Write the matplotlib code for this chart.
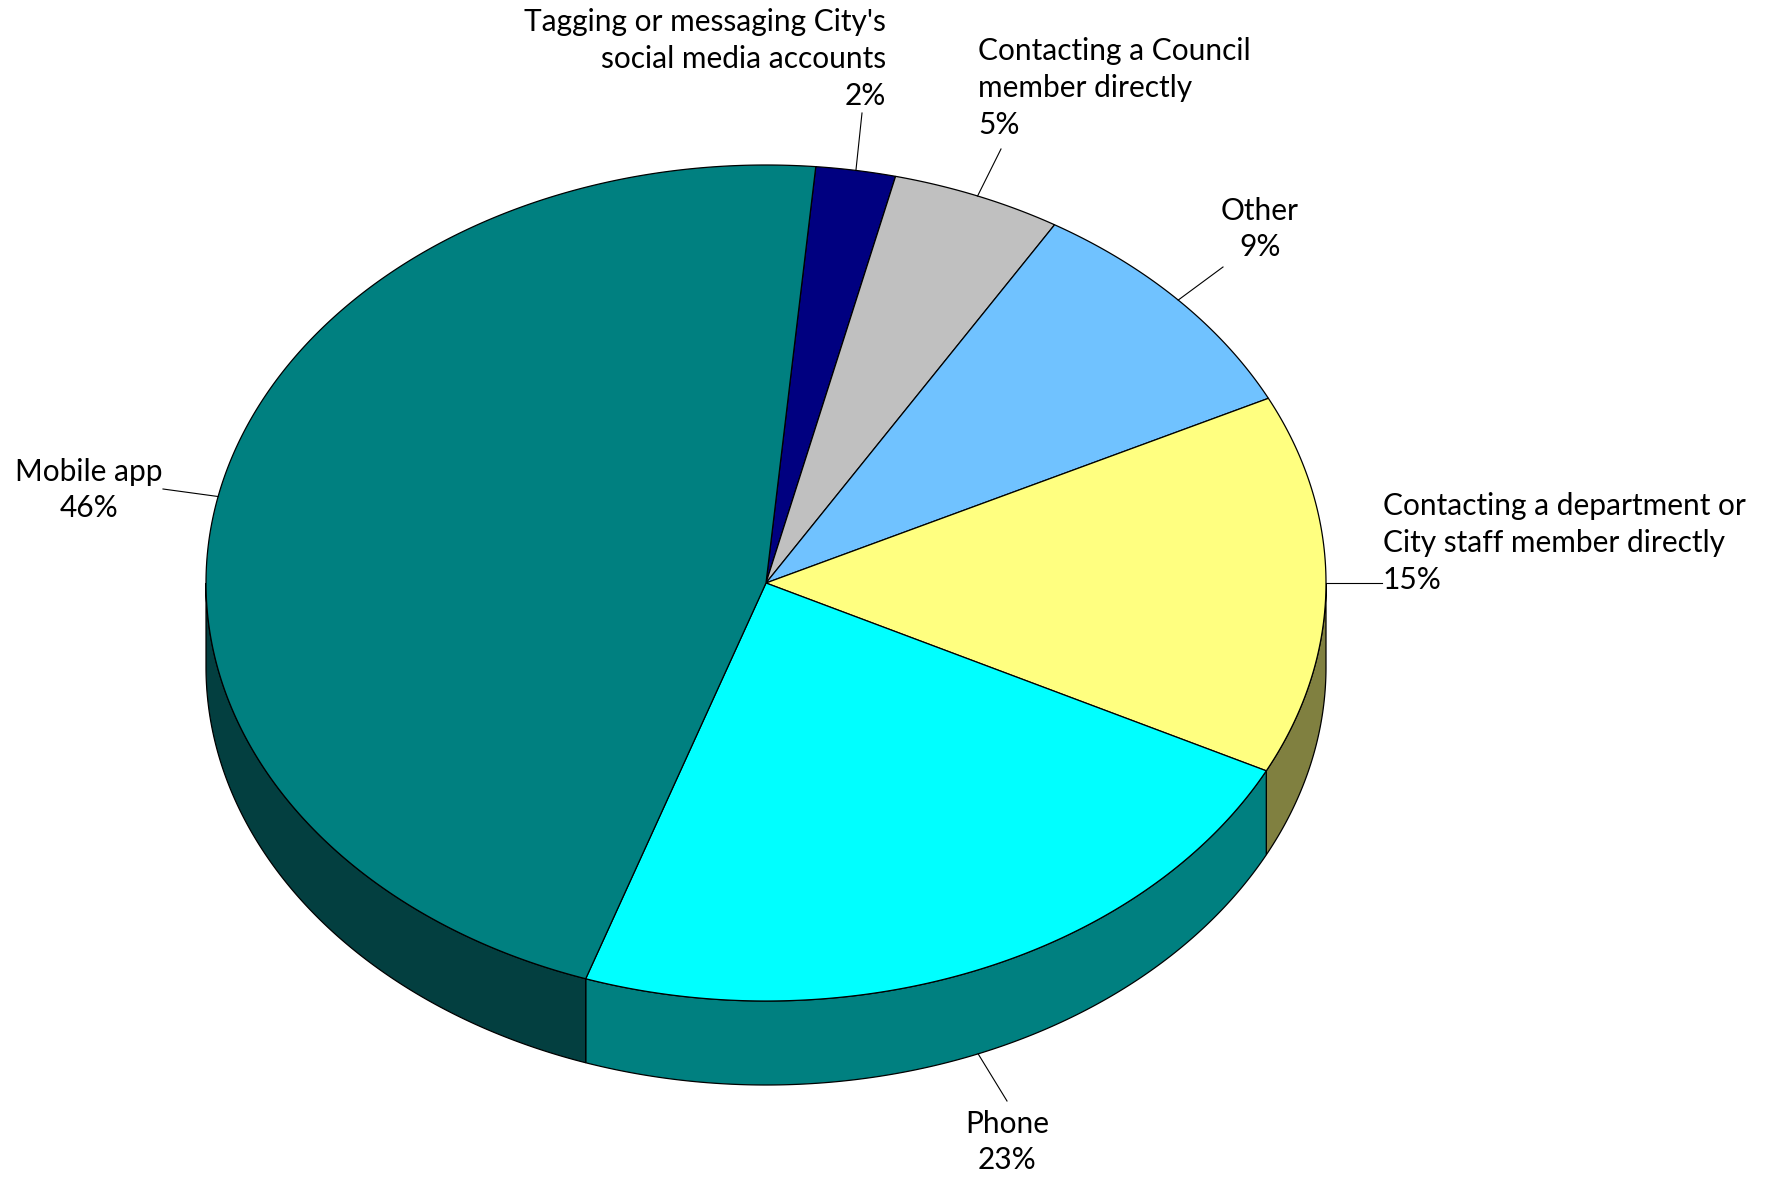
import numpy as np
import matplotlib.pyplot as plt
from matplotlib.patches import Polygon

categories = ["Tagging or messaging City's\nsocial media accounts",
              "Contacting a Council\nmember directly",
              "Other",
              "Contacting a department or\nCity staff member directly",
              "Phone",
              "Mobile app"]
values = [2.3, 4.9, 9.1, 14.7, 22.8, 46.2]
pct_labels = ["2%", "5%", "9%", "15%", "23%", "46%"]
top_colors = ["#000080", "#C0C0C0", "#70C2FF", "#FFFF80", "#00FFFF", "#008080"]
side_colors = ["#000040", "#606060", "#385F80", "#808040", "#008080", "#033F40"]

# pie geometry (pixels, y down)
cx, cy, rx, ry, depth = 766, 583, 560, 418, 84
start_angle = 5.1  # degrees, clockwise from 12 o'clock

# label placement: (x, y, ha, leader end x, leader end y)
label_pos = [(886, 59, "right", 862, 113),
             (978, 88, "left", 1001, 149),
             (1260, 229, "center", 1223, 267),
             (1383, 543, "left", 1382, 583),
             (1007, 1142, "center", 1007, 1101),
             (89, 490, "center", 163, 489)]


def ell(theta, dy=0.0):
    t = np.radians(theta)
    return cx + rx * np.sin(t), cy - ry * np.cos(t) + dy


fig = plt.figure(figsize=(17.66, 11.77), dpi=100)
ax = fig.add_axes([0, 0, 1, 1])
ax.set_xlim(0, 1766)
ax.set_ylim(1177, 0)
ax.axis("off")

bounds = start_angle + np.concatenate([[0], np.cumsum(values)]) * 3.6

# side walls (front half only)
for i in range(len(values)):
    a0, a1 = max(bounds[i], 90), min(bounds[i + 1], 270)
    if a1 <= a0:
        continue
    th = np.linspace(a0, a1, 200)
    xs, ys = ell(th)
    xb, yb = ell(th[::-1], depth)
    pts = np.column_stack([np.concatenate([xs, xb]), np.concatenate([ys, yb])])
    ax.add_patch(Polygon(pts, closed=True, facecolor=side_colors[i],
                         edgecolor="black", linewidth=0.9, zorder=1))

# top face
for i in range(len(values)):
    th = np.linspace(bounds[i], bounds[i + 1], 300)
    xs, ys = ell(th)
    pts = np.column_stack([np.concatenate([[cx], xs]), np.concatenate([[cy], ys])])
    ax.add_patch(Polygon(pts, closed=True, facecolor=top_colors[i],
                         edgecolor="black", linewidth=0.9, zorder=2))

# labels and leader lines
for i, (lx, ly, ha, ex, ey) in enumerate(label_pos):
    mid = (bounds[i] + bounds[i + 1]) / 2
    mid_n = mid % 360
    if 90 < mid_n < 270 and i != 3:
        px, py = ell(mid, depth)
    else:
        px, py = ell(mid)
    if i == 3:
        py = ey
    ax.plot([px, ex], [py, ey], color="black", linewidth=0.8, zorder=3)
    ax.text(lx, ly, categories[i] + "\n" + pct_labels[i], ha=ha, va="center",
            multialignment=ha, fontsize=21.5, family="Lato", linespacing=1.38,
            color="black", zorder=4)

fig.savefig("out.png", dpi=100)
